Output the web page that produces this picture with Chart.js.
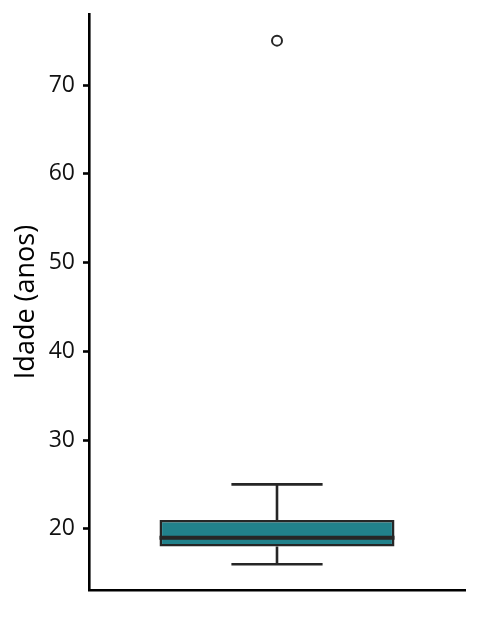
<!DOCTYPE html>
<html><head><meta charset="utf-8">
<script src="https://cdn.jsdelivr.net/npm/chart.js@4"></script>
<style>html,body{margin:0;padding:0;background:#fff}#w{width:480px;height:633px}</style>
</head><body><div id="w"><canvas id="c"></canvas></div>
<script>
const categories = ['Idade'];
const lowerWhisker = [16];
const q1 = [18];
const median = [19];
const q3 = [21];
const upperWhisker = [25];
const outliers = [75];
const yTicks = [20, 30, 40, 50, 60, 70];
const yTitle = 'Idade (anos)';

const FONT = 'Open Sans';
const boxPlugin = {
  id: 'boxExtras',
  afterDatasetsDraw(chart) {
    const ctx = chart.ctx, y = chart.scales.y;
    const meta = chart.getDatasetMeta(0);
    meta.data.forEach((bar, i) => {
      const cx = bar.x, half = bar.width / 2, capHalf = bar.width * 0.194;
      ctx.save();
      ctx.strokeStyle = '#262626';
      ctx.lineWidth = 2.6;
      ctx.lineCap = 'butt';
      const py = v => y.getPixelForValue(v);
      ctx.beginPath();
      ctx.moveTo(cx, py(q3[i])); ctx.lineTo(cx, py(upperWhisker[i]));
      ctx.moveTo(cx - capHalf, py(upperWhisker[i])); ctx.lineTo(cx + capHalf, py(upperWhisker[i]));
      ctx.moveTo(cx, py(q1[i])); ctx.lineTo(cx, py(lowerWhisker[i]));
      ctx.moveTo(cx - capHalf, py(lowerWhisker[i])); ctx.lineTo(cx + capHalf, py(lowerWhisker[i]));
      ctx.stroke();
      ctx.lineWidth = 4;
      ctx.beginPath();
      ctx.moveTo(cx - half, py(median[i])); ctx.lineTo(cx + half, py(median[i]));
      ctx.stroke();
      ctx.restore();
    });
  }
};

new Chart(document.getElementById('c'), {
  data: {
    labels: categories,
    datasets: [
      {
        type: 'bar',
        data: categories.map((c, i) => [q1[i], q3[i]]),
        backgroundColor: '#21818b',
        borderColor: '#262626',
        borderWidth: 2.6,
        borderSkipped: false,
        barPercentage: 0.625,
        categoryPercentage: 1
      },
      {
        type: 'scatter',
        data: outliers.map(v => ({x: categories[0], y: v})),
        pointStyle: 'circle',
        pointRadius: 5,
        pointBorderWidth: 2,
        borderColor: '#262626',
        backgroundColor: 'rgba(255,255,255,0)'
      }
    ]
  },
  options: {
    responsive: true,
    maintainAspectRatio: false,
    animation: false,
    events: [],
    layout: {padding: {top: 14, right: 15, left: 0, bottom: 0}},
    plugins: {legend: {display: false}, tooltip: {enabled: false}},
    scales: {
      x: {
        type: 'category',
        offset: true,
        grid: {display: false},
        border: {display: true, color: '#000', width: 2.6},
        ticks: {display: false},
        afterFit(s) { s.height = 43; s.paddingLeft = 0; s.paddingRight = 0; }
      },
      y: {
        type: 'linear',
        min: 13.1,
        max: 78,
        afterBuildTicks(s) { s.ticks = yTicks.map(v => ({value: v})); },
        grid: {display: true, drawOnChartArea: false, drawTicks: true, tickLength: 6, tickColor: '#000', tickWidth: 2.6},
        border: {display: true, color: '#000', width: 2.6},
        ticks: {color: '#111', font: {family: FONT, size: 23}, padding: 8},
        title: {display: true, text: yTitle, color: '#000', font: {family: FONT, size: 27}, padding: {top: 10, bottom: 4}},
        afterFit(s) { s.width = 89; s.paddingTop = 0; s.paddingBottom = 0; }
      }
    }
  },
  plugins: [boxPlugin]
});
</script>
</body></html>
